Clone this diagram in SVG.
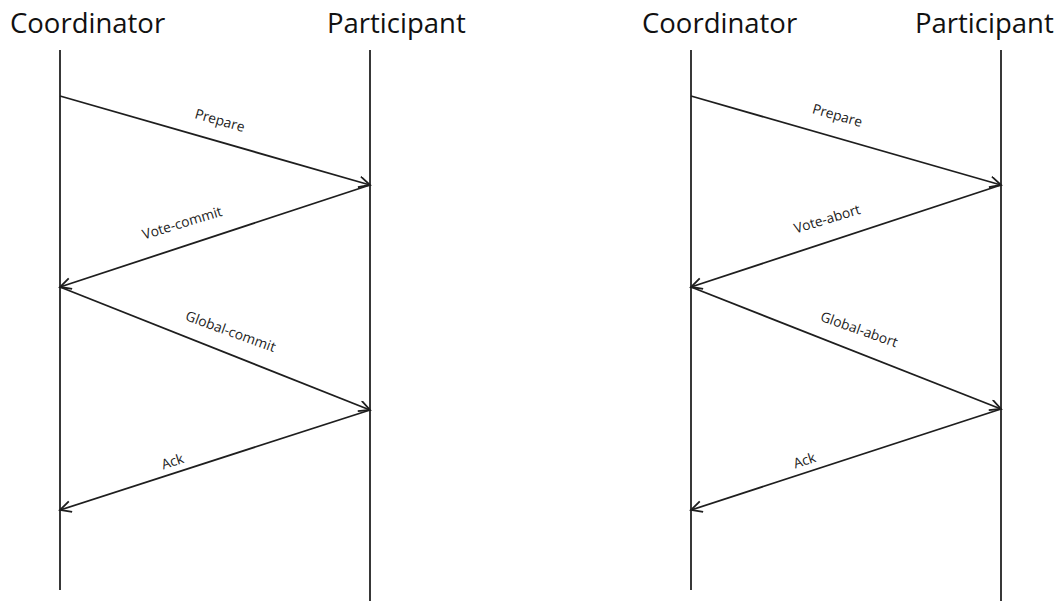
<svg xmlns="http://www.w3.org/2000/svg" width="1060" height="601" viewBox="0 0 1060 601">
  <style>
    .title { font-family: "Open Sans", "Liberation Sans", sans-serif; font-size: 27.5px; fill: #111; }
    .life { stroke: #222; stroke-width: 1.8; fill: none; }
    .msg { stroke: #1e1e1e; stroke-width: 1.8; fill: none; marker-end: url(#arrow); }
    .lbl { font-family: "Open Sans", "Liberation Sans", sans-serif; font-size: 13.8px; fill: #222; text-anchor: middle; }
  </style>
  <defs>
    <marker id="arrow" markerUnits="userSpaceOnUse" markerWidth="14" markerHeight="14" refX="12" refY="6" orient="auto">
      <path d="M1,0.5 L12,6 L1,11.5" fill="none" stroke="#1e1e1e" stroke-width="1.8"/>
    </marker>
  </defs>
  <rect width="1060" height="601" fill="#ffffff"/>

  <g id="left-coordinator">
    <text class="title" x="10" y="33">Coordinator</text>
    <line class="life" x1="60" y1="50" x2="60" y2="590"/>
  </g>
  <g id="left-participant">
    <text class="title" x="327" y="33">Participant</text>
    <line class="life" x1="370" y1="50" x2="370" y2="601"/>
  </g>
  <g id="right-coordinator">
    <text class="title" x="642" y="33">Coordinator</text>
    <line class="life" x1="691" y1="50" x2="691" y2="590"/>
  </g>
  <g id="right-participant">
    <text class="title" x="915" y="33">Participant</text>
    <line class="life" x1="1001" y1="50" x2="1001" y2="601"/>
  </g>

  <g id="connectors">
    <g id="l-prepare">
      <line class="msg" x1="60" y1="96" x2="370" y2="185"/>
      <text class="lbl" transform="translate(218.5,125) rotate(16)">Prepare</text>
    </g>
    <g id="l-vote-commit">
      <line class="msg" x1="370" y1="185" x2="60" y2="287"/>
      <text class="lbl" transform="translate(183.5,227.5) rotate(-17)">Vote-commit</text>
    </g>
    <g id="l-global-commit">
      <line class="msg" x1="60" y1="287" x2="370" y2="410"/>
      <text class="lbl" transform="translate(229,336) rotate(20)">Global-commit</text>
    </g>
    <g id="l-ack">
      <line class="msg" x1="370" y1="410" x2="60" y2="510"/>
      <text class="lbl" transform="translate(174,466) rotate(-18)">Ack</text>
    </g>

    <g id="r-prepare">
      <line class="msg" x1="691" y1="96" x2="1001" y2="185"/>
      <text class="lbl" transform="translate(836,120) rotate(16)">Prepare</text>
    </g>
    <g id="r-vote-abort">
      <line class="msg" x1="1001" y1="185" x2="691" y2="287"/>
      <text class="lbl" transform="translate(828.5,223.5) rotate(-17)">Vote-abort</text>
    </g>
    <g id="r-global-abort">
      <line class="msg" x1="691" y1="287" x2="1001" y2="409"/>
      <text class="lbl" transform="translate(857.5,334) rotate(19.5)">Global-abort</text>
    </g>
    <g id="r-ack">
      <line class="msg" x1="1001" y1="409" x2="691" y2="510"/>
      <text class="lbl" transform="translate(806,465) rotate(-18)">Ack</text>
    </g>
  </g>
</svg>
